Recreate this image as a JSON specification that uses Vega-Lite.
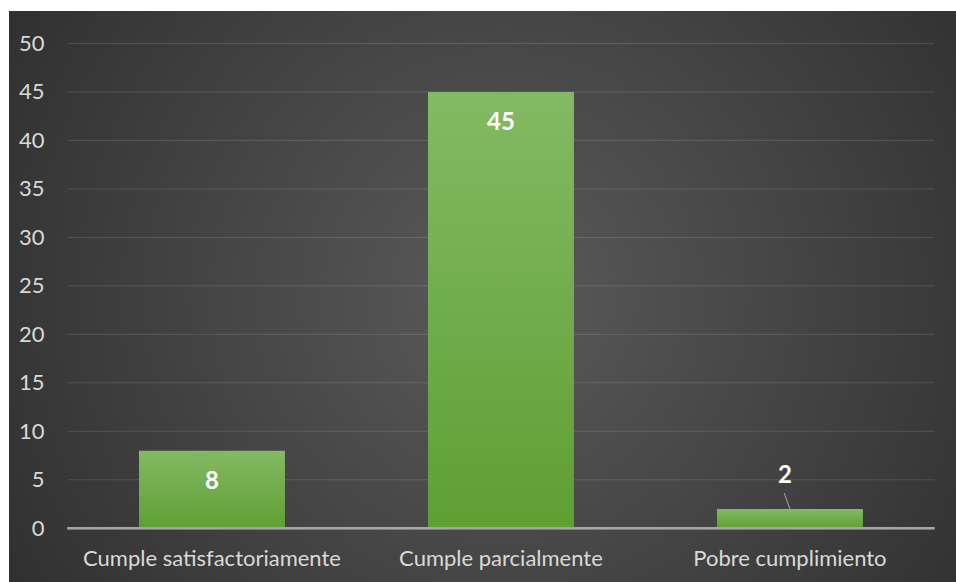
{
  "$schema": "https://vega.github.io/schema/vega-lite/v6.json",
  "width": 947,
  "height": 571,
  "autosize": {"type": "none"},
  "padding": {"left": 9, "top": 11, "right": 0, "bottom": 0},
  "background": "white",
  "config": {
    "font": "Lato",
    "view": {
      "stroke": null,
      "fill": {
        "gradient": "radial",
        "x1": 0.52, "y1": 0.5, "r1": 0,
        "x2": 0.52, "y2": 0.5, "r2": 0.75,
        "stops": [
          {"offset": 0, "color": "#5a5a5a"},
          {"offset": 1, "color": "#262626"}
        ]
      }
    }
  },
  "data": {
    "values": [
      {"categoria": "Cumple satisfactoriamente", "n": 8},
      {"categoria": "Cumple parcialmente", "n": 45},
      {"categoria": "Pobre cumplimiento", "n": 2}
    ]
  },
  "layer": [
    {
      "data": {"values": [{"v": 5}, {"v": 10}, {"v": 15}, {"v": 20}, {"v": 25}, {"v": 30}, {"v": 35}, {"v": 40}, {"v": 45}, {"v": 50}]},
      "mark": {"type": "rule", "color": "#ffffff", "opacity": 0.13, "strokeWidth": 1},
      "encoding": {
        "x": {
          "datum": "Cumple satisfactoriamente", "type": "nominal", "bandPosition": -0.49,
          "title": null,
          "scale": {
            "domain": ["Cumple satisfactoriamente", "Cumple parcialmente", "Pobre cumplimiento"],
            "paddingInner": 0.495, "paddingOuter": 0.386, "align": 0.5827
          },
          "axis": {
            "title": null, "domain": false, "ticks": false, "grid": false,
            "labelAngle": 0, "labelBaseline": "alphabetic", "offset": -17, "labelPadding": 0,
            "labelLimit": 500,
            "labelColor": "#d9d9d9", "labelFontSize": 22, "labelFont": "Lato"
          }
        },
        "x2": {"datum": "Pobre cumplimiento", "bandPosition": 1.49},
        "y": {
          "field": "v", "type": "quantitative", "title": null,
          "scale": {"domain": [-5.54, 53.35], "nice": false, "zero": false},
          "axis": {
            "title": null, "values": [0, 5, 10, 15, 20, 25, 30, 35, 40, 45, 50],
            "domain": false, "ticks": false, "grid": false, "offset": -36, "labelPadding": 1,
            "labelColor": "#d9d9d9", "labelFontSize": 22, "labelFont": "Lato"
          }
        }
      }
    },
    {
      "mark": {
        "type": "bar",
        "color": {
          "gradient": "linear", "x1": 0, "y1": 0, "x2": 0, "y2": 1,
          "stops": [
            {"offset": 0, "color": "#83ba64"},
            {"offset": 1, "color": "#5f9f33"}
          ]
        }
      },
      "encoding": {
        "x": {"field": "categoria", "type": "nominal", "title": null},
        "y": {"field": "n", "type": "quantitative", "title": null}
      }
    },
    {
      "mark": {"type": "rule", "color": "#a6a6a6", "strokeWidth": 2},
      "encoding": {
        "x": {"datum": "Cumple satisfactoriamente", "type": "nominal", "bandPosition": -0.49, "title": null},
        "x2": {"datum": "Pobre cumplimiento", "bandPosition": 1.49},
        "y": {"datum": 0, "type": "quantitative", "title": null}
      }
    },
    {
      "transform": [{"filter": "datum.n >= 5"}],
      "mark": {"type": "text", "color": "white", "fontWeight": "bold", "fontSize": 24, "font": "Lato", "baseline": "alphabetic", "dy": 38.5},
      "encoding": {
        "x": {"field": "categoria", "type": "nominal", "title": null},
        "y": {"field": "n", "type": "quantitative", "title": null},
        "text": {"field": "n", "type": "quantitative"}
      }
    },
    {
      "transform": [{"filter": "datum.n < 5"}],
      "mark": {"type": "text", "color": "white", "fontWeight": "bold", "fontSize": 24, "font": "Lato", "baseline": "alphabetic", "dy": -25.6, "dx": -5},
      "encoding": {
        "x": {"field": "categoria", "type": "nominal", "title": null},
        "y": {"field": "n", "type": "quantitative", "title": null},
        "text": {"field": "n", "type": "quantitative"}
      }
    },
    {
      "transform": [{"filter": "datum.n < 5"}],
      "mark": {"type": "rule", "color": "#a6a6a6", "strokeWidth": 1},
      "encoding": {
        "x": {"field": "categoria", "type": "nominal", "bandPosition": 0.5, "title": null},
        "x2": {"field": "categoria", "bandPosition": 0.46},
        "y": {"field": "n", "type": "quantitative", "title": null},
        "y2": {"datum": 3.65}
      }
    }
  ]
}
